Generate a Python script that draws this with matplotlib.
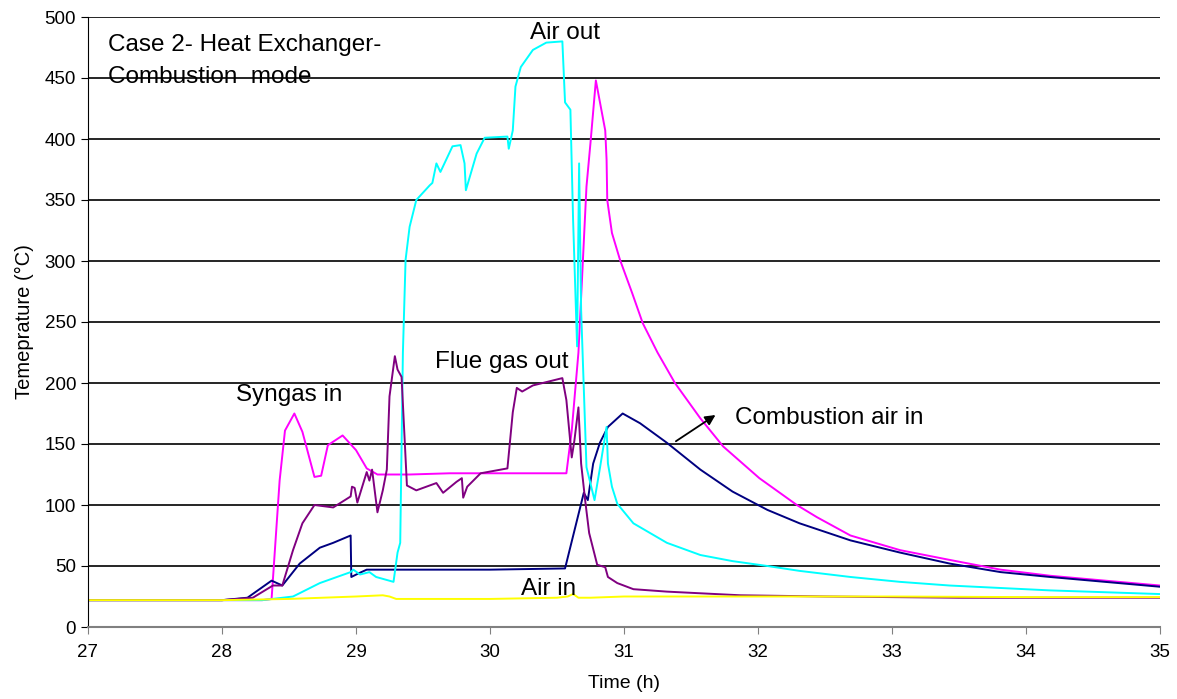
import matplotlib.pyplot as plt

plt.rcParams['font.family'] = ['Liberation Sans', 'DejaVu Sans']

# Syngas in (magenta)
syn_t = [27.0, 28.0, 28.3, 28.37, 28.43, 28.47, 28.54, 28.6, 28.69, 28.74, 28.79, 28.9, 29.0, 29.08,
         29.16, 29.4, 29.7, 30.0, 30.3, 30.57, 30.61, 30.66, 30.72, 30.75, 30.79, 30.86, 30.87,
         30.875, 30.91, 30.97, 31.06, 31.14, 31.25, 31.38, 31.57, 31.74, 32.01, 32.29, 32.44,
         32.69, 33.06, 33.43, 33.81, 34.18, 35.0]
syn_v = [22, 22, 22, 23, 120, 161, 175, 160, 123, 124, 149, 157, 145, 130,
         125, 125, 126, 126, 126, 126, 161, 225, 361, 397, 448, 407, 383,
         350, 323, 301, 274, 249, 225, 200, 171, 148, 122, 100, 90,
         75, 63, 55, 47, 42, 34]

# Combustion air in (navy)
cai_t = [27.0, 28.0, 28.19, 28.37, 28.45, 28.58, 28.73, 28.83, 28.96, 28.965, 29.02, 29.08,
         30.0, 30.56, 30.7, 30.73, 30.77, 30.82, 30.88, 30.99, 31.12, 31.32, 31.57, 31.81,
         32.07, 32.31, 32.69, 33.06, 33.43, 33.81, 34.18, 35.0]
cai_v = [22, 22, 24, 38, 34, 52, 65, 69, 75, 41, 44, 47,
         47, 48, 110, 104, 134, 151, 164, 175, 167, 151, 129, 111,
         96, 85, 71, 61, 52, 45, 41, 33]

# Air out (cyan)
aot_t = [27.0, 28.0, 28.3, 28.53, 28.73, 28.96, 28.98, 29.03, 29.1, 29.15, 29.28, 29.31, 29.33,
         29.35, 29.37, 29.4, 29.45, 29.55, 29.57, 29.6, 29.63, 29.72, 29.78, 29.81, 29.82,
         29.9, 29.96, 30.13, 30.14, 30.17, 30.19, 30.23, 30.32, 30.42, 30.54, 30.56, 30.6,
         30.62, 30.65, 30.665, 30.68, 30.72, 30.78, 30.82, 30.87, 30.88, 30.91, 30.95, 31.07,
         31.32, 31.57, 31.81, 32.07, 32.31, 32.69, 33.06, 33.43, 34.18, 35.0]
aot_v = [22, 22, 22, 25, 36, 45, 47, 43, 45, 41, 37, 61, 69,
         225, 301, 328, 350, 362, 364, 380, 373, 394, 395, 380, 358,
         388, 401, 402, 392, 407, 443, 459, 473, 479, 480, 430, 424,
         334, 230, 380, 260, 131, 104, 130, 164, 134, 115, 101, 85,
         69, 59, 54, 50, 46, 41, 37, 34, 30, 27]

# Flue gas out (purple)
fgo_t = [27.0, 28.0, 28.23, 28.38, 28.45, 28.53, 28.6, 28.69, 28.83, 28.96, 28.97, 28.99, 29.01,
         29.08, 29.1, 29.12, 29.16, 29.2, 29.23, 29.25, 29.29, 29.31, 29.34, 29.38, 29.45,
         29.6, 29.65, 29.75, 29.79, 29.80, 29.83, 29.93, 30.13, 30.17, 30.2, 30.24, 30.32,
         30.54, 30.57, 30.61, 30.63, 30.66, 30.68, 30.71, 30.74, 30.80, 30.86, 30.88, 30.95,
         31.07, 31.32, 31.87, 32.5, 33.5, 35.0]
fgo_v = [22, 22, 24, 34, 34, 63, 85, 100, 98, 107, 115, 114, 102,
         127, 120, 129, 94, 112, 129, 189, 222, 211, 205, 116, 112,
         118, 110, 119, 122, 106, 115, 126, 130, 176, 196, 193, 198,
         204, 186, 139, 153, 180, 134, 104, 77, 51, 49, 41, 36,
         31, 29, 26, 25, 24, 24]

# Air in (yellow)
ain_t = [27.0, 28.0, 28.5, 29.0, 29.2, 29.25, 29.3, 30.0, 30.5, 30.58, 30.62, 30.66, 30.75,
         31.0, 32.0, 33.0, 34.0, 35.0]
ain_v = [22, 22, 23, 25, 26, 25, 23, 23, 24, 25, 27, 24, 24,
         25, 25, 25, 24.5, 24.5]

series = [
    (syn_t, syn_v, '#FF00FF'),
    (cai_t, cai_v, '#000080'),
    (aot_t, aot_v, '#00FFFF'),
    (fgo_t, fgo_v, '#800080'),
    (ain_t, ain_v, '#FFFF00'),
]

fig = plt.figure(figsize=(11.77, 6.99), dpi=100)
ax = fig.add_axes([88 / 1177, 1 - 627 / 699, (1160 - 88) / 1177, (627 - 17) / 699])

for t, v, c in series:
    ax.plot(t, v, color=c, lw=1.4)

ax.set_xlim(27, 35)
ax.set_ylim(0, 500)
ax.set_xticks(range(27, 36))
ax.set_yticks(range(0, 501, 50))
ax.yaxis.grid(True, color='black', lw=1.2)
ax.set_axisbelow(True)
for s in ['top', 'right']:
    ax.spines[s].set_visible(False)
ax.spines['left'].set_color('black')
ax.spines['bottom'].set_color('#808080')
ax.spines['bottom'].set_linewidth(1.5)
ax.tick_params(axis='both', direction='out', length=5, labelsize=13.5)
ax.tick_params(axis='x', pad=7, color='#808080')
ax.set_xlabel('Time (h)', fontsize=14, labelpad=10)
ax.set_ylabel('Temeprature (°C)', fontsize=14.5, labelpad=8)

ax.text(27.15, 477, 'Case 2- Heat Exchanger-', fontsize=17.5, va='center')
ax.text(27.15, 451, 'Combustion  mode', fontsize=17.5, va='center')
ax.text(30.56, 487, 'Air out', fontsize=17.5, ha='center', va='center')
ax.text(30.09, 217, 'Flue gas out', fontsize=17.5, ha='center', va='center')
ax.text(28.5, 190, 'Syngas in', fontsize=17.5, ha='center', va='center')
ax.text(30.44, 31, 'Air in', fontsize=17.5, ha='center', va='center')
ax.text(31.83, 171, 'Combustion air in', fontsize=17.5, va='center')
ax.annotate('', xy=(31.70, 175), xytext=(31.37, 151),
            arrowprops=dict(arrowstyle='-|>', color='black', lw=1.3, mutation_scale=15))

fig.savefig('out.png', dpi=100)
